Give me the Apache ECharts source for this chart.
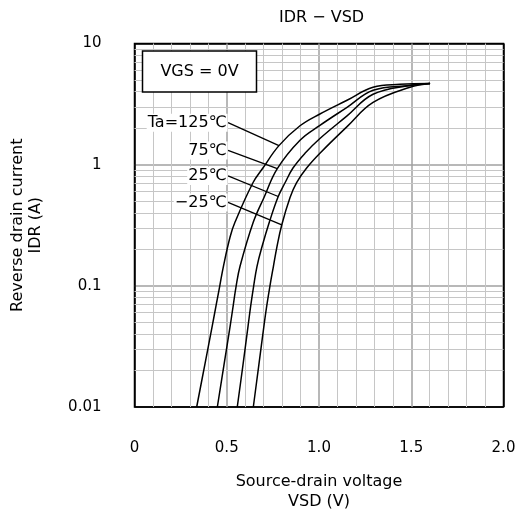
<!DOCTYPE html>
<html>
<head>
<meta charset="utf-8">
<script src="https://cdn.jsdelivr.net/npm/echarts@6/dist/echarts.min.js"></script>
<style>
  html, body { margin: 0; padding: 0; background: #fff; }
  #chart { width: 520px; height: 517px; }
</style>
</head>
<body>
<div id="chart"></div>
<script>
// Axis ticks
const xTicks = [0, 0.5, 1.0, 1.5, 2.0];
const xTickLabels = ['0', '0.5', '1.0', '1.5', '2.0'];
const yTicks = [0.01, 0.1, 1, 10];
const yTickLabels = ['0.01', '0.1', '1', '10'];

// IDR vs VSD, [VSD (V), IDR (A)]
const ta125 = [[0.337, 0.01], [0.381, 0.0223], [0.422, 0.0472], [0.442, 0.0686], [0.461, 0.0977],
  [0.482, 0.145], [0.518, 0.253], [0.545, 0.336], [0.642, 0.709], [0.696, 0.938],
  [0.783, 1.436], [0.897, 2.094], [1.005, 2.62], [1.152, 3.40], [1.293, 4.35], [1.439, 4.60], [1.602, 4.68]];
const ta75 = [[0.449, 0.01], [0.485, 0.0223], [0.519, 0.0472], [0.535, 0.0686], [0.550, 0.0977],
  [0.572, 0.145], [0.644, 0.336], [0.702, 0.536], [0.774, 0.927], [0.897, 1.59],
  [1.005, 2.11], [1.152, 2.97], [1.293, 4.11], [1.493, 4.51], [1.602, 4.68]];
const ta25 = [[0.557, 0.01], [0.588, 0.0223], [0.616, 0.0472], [0.630, 0.0686], [0.645, 0.0977],
  [0.664, 0.145], [0.691, 0.210], [0.731, 0.336], [0.779, 0.546], [0.816, 0.709], [0.859, 0.938],
  [0.924, 1.242], [1.005, 1.645], [1.152, 2.527], [1.293, 3.81], [1.493, 4.51], [1.602, 4.68]];
const taM25 = [[0.644, 0.01], [0.674, 0.0223], [0.702, 0.0472], [0.717, 0.0686], [0.734, 0.0996],
  [0.753, 0.145], [0.772, 0.210], [0.798, 0.318], [0.843, 0.536], [0.878, 0.709], [0.933, 0.938],
  [1.005, 1.242], [1.152, 2.06], [1.293, 3.26], [1.493, 4.35], [1.602, 4.68]];

// Curve labels: text, label anchor, point on curve where the leader ends
const curveNames = ['Ta=125℃', '75℃', '25℃', '−25℃'];
const labelAnchors = [[0.507, 2.22], [0.507, 1.31], [0.507, 0.807], [0.507, 0.488]];
const leaderEnds = [[0.783, 1.436], [0.774, 0.927], [0.779, 0.546], [0.798, 0.318]];

// Log grid lines between decades (2..9 of each decade)
const minorY = [];
[0.01, 0.1, 1].forEach(d => { for (let k = 2; k <= 9; k++) minorY.push(+(d * k).toPrecision(2)); });

const FONT = 'DejaVu Sans';

const chart = echarts.init(document.getElementById('chart'));

const curves = [ta125, ta75, ta25, taM25].map((data, i) => ({
    type: 'line',
    name: curveNames[i],
    data: data,
    smooth: 0.4,
    symbol: 'none',
    z: 5,
    lineStyle: { color: '#000', width: 1.5 },
    markLine: {
        silent: true,
        symbol: ['none', 'none'],
        label: { show: false },
        lineStyle: { color: '#000', width: 1.3, type: 'solid' },
        data: [[{ coord: labelAnchors[i] }, { coord: leaderEnds[i] }]],
    },
    markPoint: {
        silent: true,
        symbol: 'rect',
        symbolSize: [1, 1],
        itemStyle: { color: 'rgba(0,0,0,0)' },
        label: {
            show: true,
            position: 'left',
            distance: 0,
            formatter: curveNames[i],
            color: '#000',
            fontFamily: FONT,
            fontSize: 16,
            backgroundColor: '#fff',
            padding: [1, 1],
        },
        data: [{ coord: labelAnchors[i] }],
    },
}));

const option = {
    animation: false,
    backgroundColor: '#fff',
    title: {
        text: 'IDR − VSD',
        left: 279,
        top: 10,
        padding: 0,
        textStyle: { fontFamily: FONT, fontSize: 16, fontWeight: 'normal', color: '#000' },
    },
    grid: {
        left: 134.5,
        right: 16.5,
        top: 43.5,
        bottom: 104,
        show: true,
        borderColor: '#000',
        borderWidth: 1.5,
        backgroundColor: 'transparent',
    },
    xAxis: {
        type: 'value',
        min: 0,
        max: 2,
        interval: 0.5,
        name: 'Source-drain voltage\nVSD (V)',
        nameLocation: 'middle',
        nameGap: 65,
        nameTextStyle: { fontFamily: FONT, fontSize: 16, color: '#000', lineHeight: 20 },
        axisLine: { show: false },
        axisTick: { show: false },
        axisLabel: {
            margin: 34,
            fontFamily: FONT,
            fontSize: 15,
            color: '#000',
            formatter: v => xTickLabels[xTicks.findIndex(t => Math.abs(t - v) < 1e-6)] || '',
        },
        // outer lines black to form the frame, inner major lines grey
        splitLine: { show: true, lineStyle: { color: ['#000', '#a0a0a0', '#a0a0a0', '#a0a0a0', '#000'], width: 1.5 } },
        minorTick: { show: false, splitNumber: 5 },
        minorSplitLine: { show: true, lineStyle: { color: '#c6c6c6', width: 1 } },
    },
    yAxis: {
        type: 'log',
        logBase: 10,
        min: 0.01,
        max: 10,
        name: 'Reverse drain current\nIDR (A)',
        nameLocation: 'middle',
        nameGap: 90,
        nameTextStyle: { fontFamily: FONT, fontSize: 16, color: '#000', lineHeight: 18 },
        axisLine: { show: false },
        axisTick: { show: false },
        axisLabel: {
            margin: 33,
            fontFamily: FONT,
            fontSize: 15,
            color: '#000',
            formatter: v => yTickLabels[yTicks.findIndex(t => Math.abs(Math.log10(t) - Math.log10(v)) < 1e-6)] || '',
        },
        splitLine: { show: true, lineStyle: { color: ['#000', '#a0a0a0', '#a0a0a0', '#000'], width: 1.5 } },
    },
    graphic: [
        {
            type: 'rect',
            z: 100,
            shape: { x: 142.5, y: 51, width: 114, height: 41 },
            style: { fill: '#fff', stroke: '#000', lineWidth: 1.5 },
        },
        {
            type: 'text',
            z: 101,
            x: 199.5,
            y: 71.5,
            style: {
                text: 'VGS = 0V',
                fontFamily: FONT,
                fontSize: 16,
                fill: '#000',
                align: 'center',
                verticalAlign: 'middle',
            },
        },
    ],
    series: [
        {
            type: 'line',
            data: [],
            silent: true,
            z: 1,
            markLine: {
                silent: true,
                symbol: ['none', 'none'],
                label: { show: false },
                lineStyle: { color: '#c6c6c6', width: 1, type: 'solid' },
                data: minorY.map(v => ({ yAxis: v })),
            },
        },
        ...curves,
    ],
};

chart.setOption(option);
</script>
</body>
</html>
